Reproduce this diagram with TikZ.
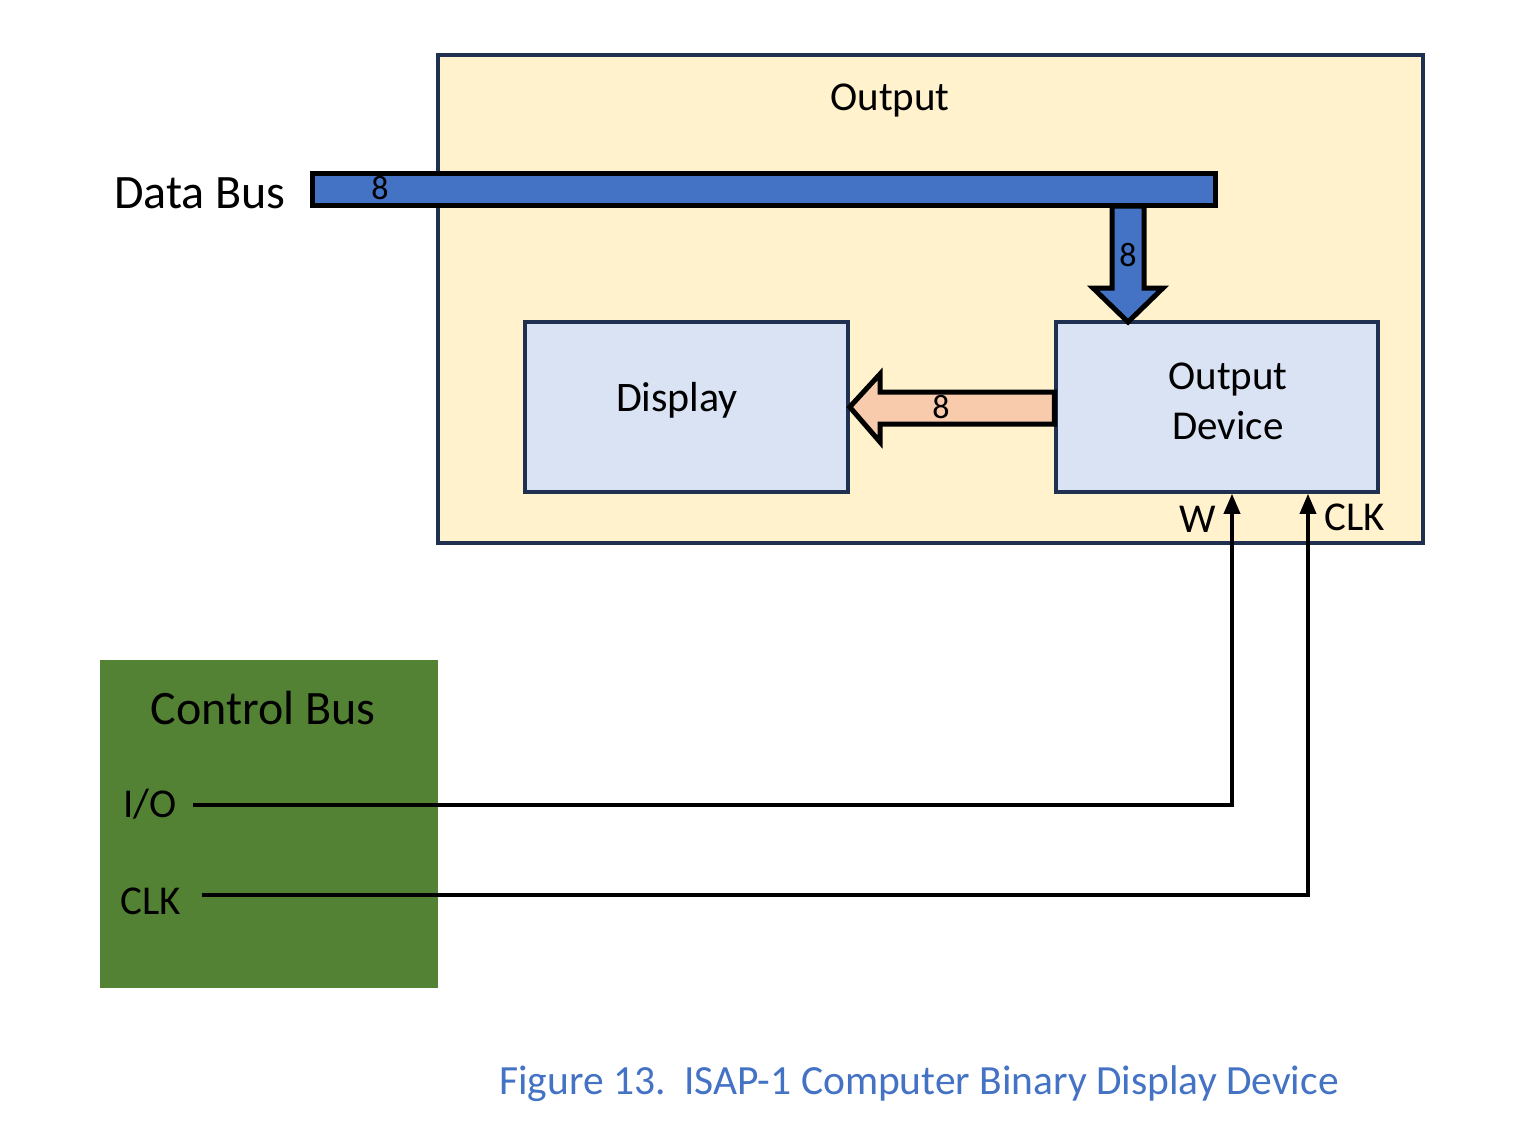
\documentclass[tikz,border=0pt]{standalone}
\usepackage{fontspec}
\setmainfont{Carlito}
\usetikzlibrary{calc,arrows.meta}
\definecolor{navy}{HTML}{1F3050}
\definecolor{outfill}{HTML}{FFF2CC}
\definecolor{boxfill}{HTML}{DAE3F3}
\definecolor{busblue}{HTML}{4472C4}
\definecolor{peach}{HTML}{F8CBAD}
\definecolor{ctlgreen}{HTML}{548235}
\newcommand{\fs}[1]{\fontsize{#1}{50}\selectfont}
\tikzset{
  x=1pt, y=-1pt,
  unit/.style={draw=navy, line width=3.5pt, fill=boxfill, inner sep=0pt},
  busshape/.style={draw=black, line width=5pt, line join=miter, fill=busblue},
  txt/.style={inner sep=0pt, font=\fs{41}},
  bits/.style={inner sep=0pt, font=\fs{34}},
  sig/.style={line width=3.5pt, -{Triangle[length=20pt,width=16pt]}},
}
\begin{document}
\begin{tikzpicture}
\useasboundingbox (0,0) rectangle (1527,1136);
\fill[white] (0,0) rectangle (1527,1136);

% Output enclosure
\draw[draw=navy, line width=3.5pt, fill=outfill] (438,55) rectangle (1423,543);
\node[txt] (outtitle) at (890,100) {Output};

% Units
\node[unit, minimum width=323pt, minimum height=170pt] (disp) at (686.5,407) {};
\node[txt, font=\fs{42}] (displbl) at (677,400) {Display};
\node[unit, minimum width=322pt, minimum height=170pt] (od) at (1217,407) {};
\node[txt, align=center] (odlbl) at (1228,401) {Output\\Device};

% Data bus
\node[busshape, inner sep=0pt, minimum width=903pt, minimum height=32pt] (bus) at (763.5,189) {};
\node[bits] (busbits) at (380,188) {8};
\node[inner sep=0pt, font=\fs{48}, anchor=east] (buslbl) at (286,193) {Data Bus};

% Bus into the output device
\coordinate (dtip) at (1128,322);
\draw[busshape] (1112,206) -- (1144,206) -- (1144,288) -- (1163,288) -- (dtip)
  -- (1093,288) -- (1112,288) -- cycle;
\node[bits] (dbits) at (1128,255) {8};

% Output device feeding the display
\coordinate (ltip) at (disp.east);
\draw[draw=black, line width=5pt, line join=miter, fill=peach]
  (od.west |- 0,392) -- (880,392) -- (880,374) -- (ltip) -- (880,442) -- (880,424)
  -- (od.west |- 0,424) -- cycle;
\node[bits] (lbits) at (941,407) {8};

% Control bus
\node[fill=ctlgreen, minimum width=338pt, minimum height=328pt, inner sep=0pt] (ctl) at (269,824) {};
\node[txt, font=\fs{48}] (ctltitle) at (263,708) {Control Bus};
\node[txt, anchor=east] (iolbl) at (177,804) {I/O};
\node[txt, anchor=east] (clklbl) at (181,901) {CLK};
\coordinate (io0) at (193,805);
\coordinate (clk0) at (202,895);

% Control signals
\draw[sig] (io0) -- (1232,805) -- (od.south -| 1232,0);
\draw[sig] (clk0) -- (1308,895) -- (od.south -| 1308,0);
\node[txt] (wlbl) at (1198,519) {W};
\node[txt] (clkin) at (1355,517) {CLK};

% Caption
\node[inner sep=0pt, font=\fs{41.5}, text=busblue] (caption) at (919,1084) {Figure 13.\ \ ISAP-1 Computer Binary Display Device};
\end{tikzpicture}
\end{document}
